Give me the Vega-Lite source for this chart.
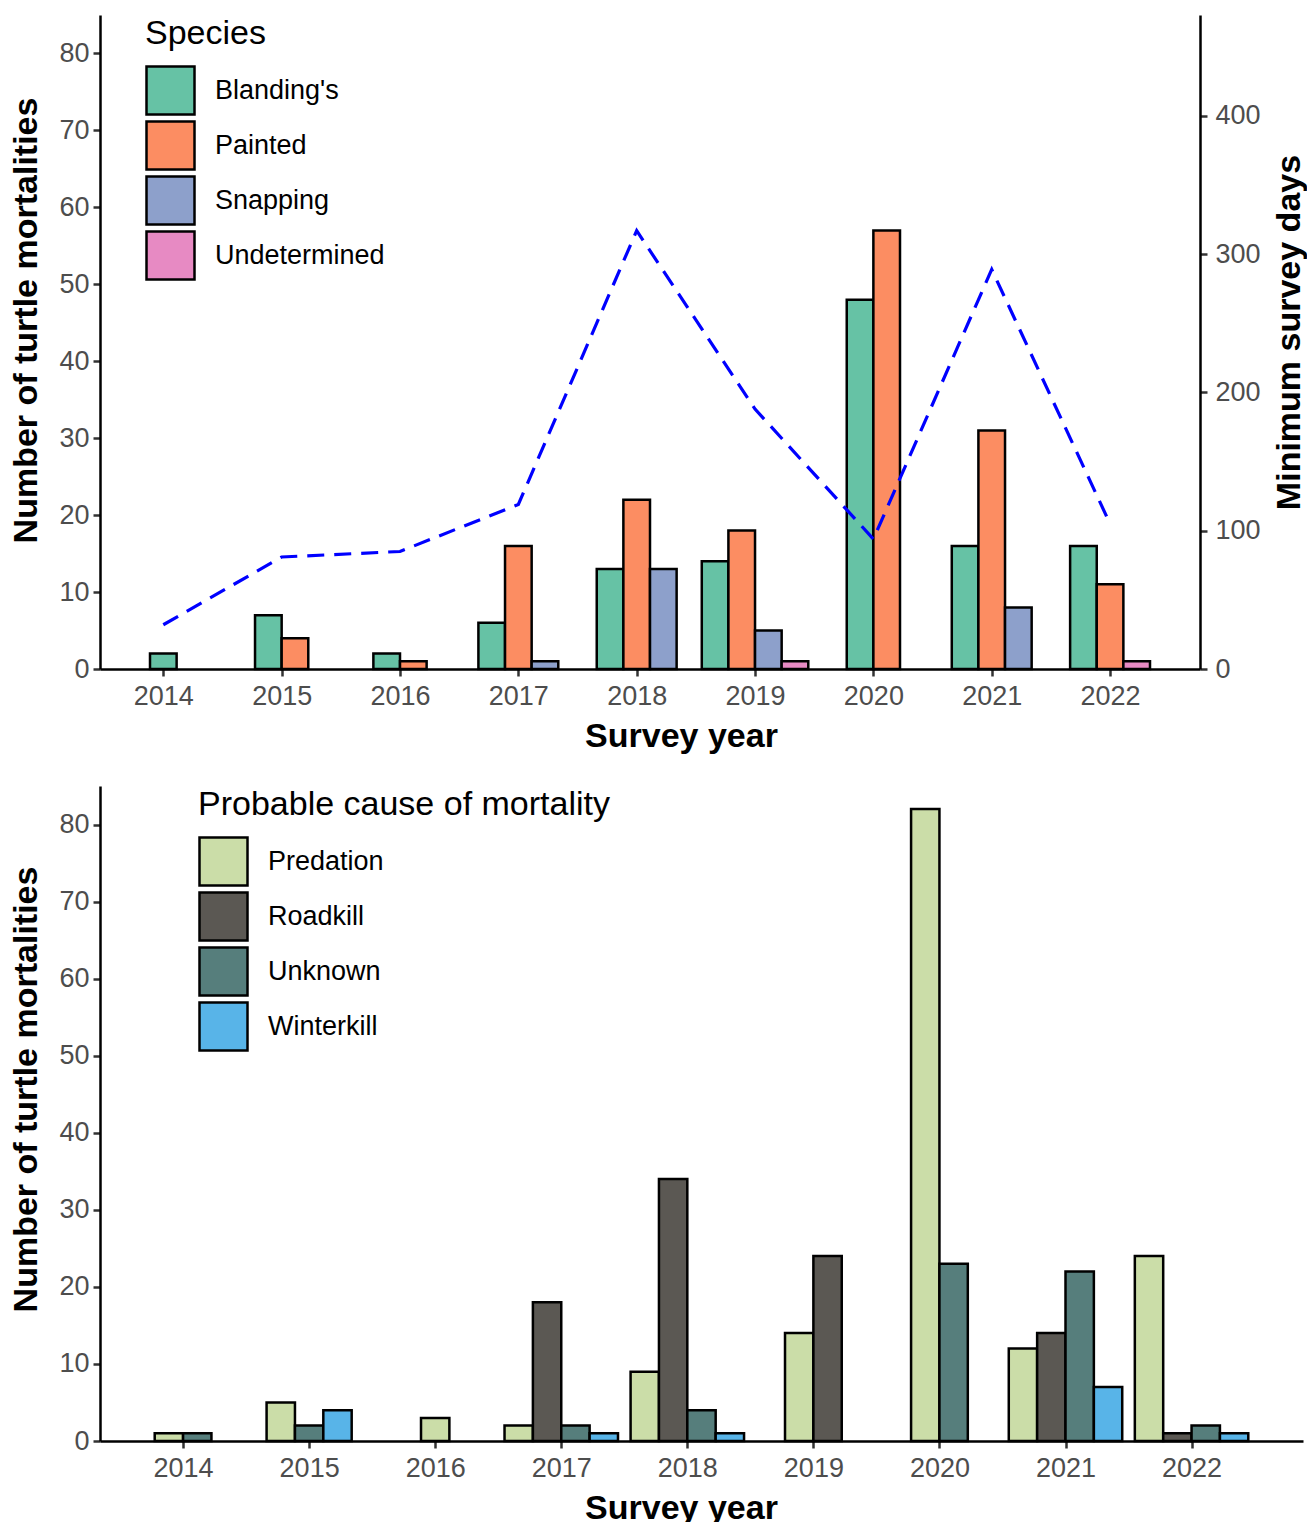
{
  "$schema": "https://vega.github.io/schema/vega-lite/v6.json",
  "padding": {"left": 9, "top": 15, "right": 0, "bottom": 0},
  "spacing": 33,
  "resolve": {"scale": {"fill": "independent"}, "legend": {"fill": "independent"}},
  "config": {
    "font": "Liberation Sans",
    "view": {"stroke": null},
    "axis": {
      "grid": false,
      "domainColor": "#000000",
      "domainWidth": 2.5,
      "tickColor": "#333333",
      "tickWidth": 2.5,
      "tickSize": 7,
      "labelColor": "#4D4D4D",
      "labelFontSize": 27,
      "labelPadding": 4,
      "titleFontSize": 34,
      "titleFontWeight": "bold",
      "titleColor": "#000000",
      "titlePadding": 15
    },
    "axisX": {"labelPadding": 7, "titlePadding": 10},
    "legend": {
      "padding": 0,
      "titleFontSize": 34,
      "titleFontWeight": "normal",
      "titleColor": "#000000",
      "titlePadding": 14,
      "labelFontSize": 27,
      "labelColor": "#000000",
      "labelOffset": 19,
      "labelLimit": 500,
      "titleLimit": 800,
      "rowPadding": -14,
      "symbolType": "square",
      "symbolSize": 2304,
      "symbolStrokeColor": "#000000",
      "symbolStrokeWidth": 2.5,
      "symbolOpacity": 1
    }
  },
  "vconcat": [
    {
      "width": 1100,
      "height": 654,
      "layer": [
        {
          "data": {"values": [
            {"year": 2014, "species": "Blanding's", "count": 2},
            {"year": 2015, "species": "Blanding's", "count": 7},
            {"year": 2015, "species": "Painted", "count": 4},
            {"year": 2016, "species": "Blanding's", "count": 2},
            {"year": 2016, "species": "Painted", "count": 1},
            {"year": 2017, "species": "Blanding's", "count": 6},
            {"year": 2017, "species": "Painted", "count": 16},
            {"year": 2017, "species": "Snapping", "count": 1},
            {"year": 2018, "species": "Blanding's", "count": 13},
            {"year": 2018, "species": "Painted", "count": 22},
            {"year": 2018, "species": "Snapping", "count": 13},
            {"year": 2019, "species": "Blanding's", "count": 14},
            {"year": 2019, "species": "Painted", "count": 18},
            {"year": 2019, "species": "Snapping", "count": 5},
            {"year": 2019, "species": "Undetermined", "count": 1},
            {"year": 2020, "species": "Blanding's", "count": 48},
            {"year": 2020, "species": "Painted", "count": 57},
            {"year": 2021, "species": "Blanding's", "count": 16},
            {"year": 2021, "species": "Painted", "count": 31},
            {"year": 2021, "species": "Snapping", "count": 8},
            {"year": 2022, "species": "Blanding's", "count": 16},
            {"year": 2022, "species": "Painted", "count": 11},
            {"year": 2022, "species": "Undetermined", "count": 1}
          ]},
          "transform": [
            {"joinaggregate": [{"op": "count", "as": "n"}], "groupby": ["year"]},
            {"window": [{"op": "row_number", "as": "i"}], "groupby": ["year"], "sort": [{"field": "species", "order": "ascending"}]},
            {"calculate": "datum.year + (datum.i - (datum.n + 1) / 2 - 0.5) * 0.225", "as": "left"},
            {"calculate": "datum.year + (datum.i - (datum.n + 1) / 2 + 0.5) * 0.225", "as": "right"}
          ],
          "mark": {"type": "bar", "stroke": "#000000", "strokeWidth": 2.5},
          "encoding": {
            "x": {
              "field": "left", "type": "quantitative",
              "scale": {"domain": [2013.465, 2022.76], "nice": false, "zero": false},
              "axis": {"values": [2014, 2015, 2016, 2017, 2018, 2019, 2020, 2021, 2022], "format": "d", "title": "Survey year", "titleX": 581}
            },
            "x2": {"field": "right"},
            "y": {
              "field": "count", "type": "quantitative", "stack": null,
              "scale": {"domain": [0, 85], "nice": false},
              "axis": {"values": [0, 10, 20, 30, 40, 50, 60, 70, 80], "title": "Number of turtle mortalities", "titleY": 305}
            },
            "y2": {"datum": 0},
            "fill": {
              "field": "species", "type": "nominal",
              "scale": {"domain": ["Blanding's", "Painted", "Snapping", "Undetermined"], "range": ["#66C2A5", "#FC8D62", "#8DA0CB", "#E78AC3"]},
              "legend": {"title": "Species", "orient": "none", "legendX": 45, "legendY": 2}
            }
          }
        },
        {
          "data": {"values": [
            {"year": 2014, "days": 32},
            {"year": 2015, "days": 81},
            {"year": 2016, "days": 85},
            {"year": 2017, "days": 119},
            {"year": 2018, "days": 317},
            {"year": 2019, "days": 188},
            {"year": 2020, "days": 94},
            {"year": 2021, "days": 289},
            {"year": 2022, "days": 105}
          ]},
          "mark": {"type": "line", "stroke": "#0000FF", "strokeWidth": 3.2, "strokeDash": [17, 10]},
          "encoding": {
            "x": {"field": "year", "type": "quantitative"},
            "y": {
              "field": "days", "type": "quantitative",
              "scale": {"domain": [0, 473], "nice": false},
              "axis": {"orient": "right", "values": [0, 100, 200, 300, 400], "title": "Minimum survey days", "titleAngle": 270, "titleBaseline": "top", "titleY": 317, "titlePadding": 12, "labelPadding": 8}
            }
          }
        }
      ],
      "resolve": {"scale": {"y": "independent"}}
    },
    {
      "width": 1203,
      "height": 655,
      "data": {"values": [
        {"year": 2014, "cause": "Predation", "count": 1},
        {"year": 2014, "cause": "Unknown", "count": 1},
        {"year": 2015, "cause": "Predation", "count": 5},
        {"year": 2015, "cause": "Unknown", "count": 2},
        {"year": 2015, "cause": "Winterkill", "count": 4},
        {"year": 2016, "cause": "Predation", "count": 3},
        {"year": 2017, "cause": "Predation", "count": 2},
        {"year": 2017, "cause": "Roadkill", "count": 18},
        {"year": 2017, "cause": "Unknown", "count": 2},
        {"year": 2017, "cause": "Winterkill", "count": 1},
        {"year": 2018, "cause": "Predation", "count": 9},
        {"year": 2018, "cause": "Roadkill", "count": 34},
        {"year": 2018, "cause": "Unknown", "count": 4},
        {"year": 2018, "cause": "Winterkill", "count": 1},
        {"year": 2019, "cause": "Predation", "count": 14},
        {"year": 2019, "cause": "Roadkill", "count": 24},
        {"year": 2020, "cause": "Predation", "count": 82},
        {"year": 2020, "cause": "Unknown", "count": 23},
        {"year": 2021, "cause": "Predation", "count": 12},
        {"year": 2021, "cause": "Roadkill", "count": 14},
        {"year": 2021, "cause": "Unknown", "count": 22},
        {"year": 2021, "cause": "Winterkill", "count": 7},
        {"year": 2022, "cause": "Predation", "count": 24},
        {"year": 2022, "cause": "Roadkill", "count": 1},
        {"year": 2022, "cause": "Unknown", "count": 2},
        {"year": 2022, "cause": "Winterkill", "count": 1}
      ]},
      "transform": [
        {"joinaggregate": [{"op": "count", "as": "n"}], "groupby": ["year"]},
        {"window": [{"op": "row_number", "as": "i"}], "groupby": ["year"], "sort": [{"field": "cause", "order": "ascending"}]},
        {"calculate": "datum.year + (datum.i - (datum.n + 1) / 2 - 0.5) * 0.225", "as": "left"},
        {"calculate": "datum.year + (datum.i - (datum.n + 1) / 2 + 0.5) * 0.225", "as": "right"}
      ],
      "mark": {"type": "bar", "stroke": "#000000", "strokeWidth": 2.5},
      "encoding": {
        "x": {
          "field": "left", "type": "quantitative",
          "scale": {"domain": [2013.341, 2022.884], "nice": false, "zero": false},
          "axis": {"values": [2014, 2015, 2016, 2017, 2018, 2019, 2020, 2021, 2022], "format": "d", "title": "Survey year", "titleX": 581}
        },
        "x2": {"field": "right"},
        "y": {
          "field": "count", "type": "quantitative", "stack": null,
          "scale": {"domain": [0, 85], "nice": false},
          "axis": {"values": [0, 10, 20, 30, 40, 50, 60, 70, 80], "title": "Number of turtle mortalities", "titleY": 303}
        },
        "y2": {"datum": 0},
        "fill": {
          "field": "cause", "type": "nominal",
          "scale": {"domain": ["Predation", "Roadkill", "Unknown", "Winterkill"], "range": ["#CBDDA8", "#5B5853", "#567E7C", "#58B4E8"]},
          "legend": {"title": "Probable cause of mortality", "orient": "none", "legendX": 98, "legendY": 2}
        }
      }
    }
  ]
}
